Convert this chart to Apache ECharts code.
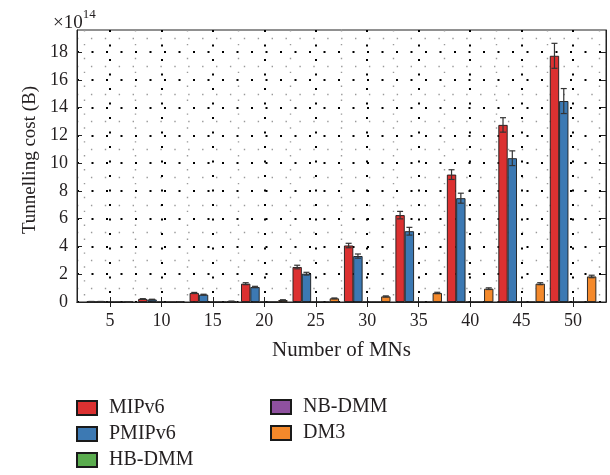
<!DOCTYPE html>
<html>
<head>
<meta charset="utf-8">
<script src="https://cdn.jsdelivr.net/npm/echarts@6/dist/echarts.min.js"></script>
<style>
  html, body { margin: 0; padding: 0; background: #fff; }
  #chart { width: 610px; height: 475px; }
</style>
</head>
<body>
<div id="chart"></div>
<script>
// number of mobile nodes (x tick labels)
var mnCounts = [5, 10, 15, 20, 25, 30, 35, 40, 45, 50]
var yTicks = [0, 2, 4, 6, 8, 10, 12, 14, 16, 18]

// tunnelling cost, x10^14 B
var mipv6 = [0.03, 0.22, 0.65, 1.32, 2.52, 4.07, 6.26, 9.18, 12.76, 17.74]
var pmipv6 = [0.03, 0.18, 0.53, 1.08, 2.04, 3.31, 5.10, 7.48, 10.36, 14.48]
var hbDmm = [0, 0, 0, 0, 0, 0, 0, 0, 0, 0]
var nbDmm = [0, 0, 0, 0, 0, 0, 0, 0, 0, 0]
var dm3 = [0.01, 0.03, 0.05, 0.14, 0.26, 0.40, 0.65, 0.96, 1.32, 1.84]

// error bar half-lengths
var mipv6Err = [0.01, 0.02, 0.04, 0.07, 0.13, 0.16, 0.27, 0.35, 0.52, 0.90]
var pmipv6Err = [0.01, 0.02, 0.03, 0.05, 0.10, 0.15, 0.28, 0.36, 0.53, 0.90]
var dm3Err = [0, 0, 0.01, 0.02, 0.03, 0.04, 0.05, 0.06, 0.07, 0.09]

var FONT = 'Liberation Serif'
var TXT = '#231f20'
var BAR_W = 9.3
var colors = ['#dc3131', '#3c79b3', '#5aac4e', '#8f519f', '#f4892b']
var names = ['MIPv6', 'PMIPv6', 'HB-DMM', 'NB-DMM', 'DM3']
var values = [mipv6, pmipv6, hbDmm, nbDmm, dm3]

var xMinor = mnCounts.map(function (v) { return v - 2.5 }).concat([52.5])
var yMinor = yTicks.map(function (v) { return v + 1 })

var majorLine = { show: true, lineStyle: { color: '#000', width: 2, type: [2, 12.5] } }
var minorLine = { show: true, lineStyle: { color: '#999', width: 1.4, type: [1.4, 12.5] } }

function pairs (arr) {
  return arr.map(function (v, i) { return [mnCounts[i], v] })
}

var series = names.map(function (n, i) {
  return {
    name: n,
    type: 'bar',
    xAxisIndex: 0,
    yAxisIndex: 0,
    barWidth: BAR_W,
    barGap: '0%',
    itemStyle: { color: colors[i], borderColor: '#1a1a1a', borderWidth: 0.9 },
    data: pairs(values[i])
  }
})

function errSeries (vals, errs, idx) {
  return {
    type: 'custom',
    xAxisIndex: 0,
    yAxisIndex: 0,
    z: 5,
    silent: true,
    data: vals.map(function (v, i) { return [mnCounts[i], v, errs[i]] }),
    renderItem: function (params, api) {
      var x = api.value(0)
      var v = api.value(1)
      var e = api.value(2)
      var hi = api.coord([x, v + e])
      var lo = api.coord([x, v - e])
      var cx = hi[0] + (idx - 2) * BAR_W
      var cap = 3
      var st = { stroke: '#333', lineWidth: 1.2 }
      return {
        type: 'group',
        children: [
          { type: 'line', shape: { x1: cx, y1: hi[1], x2: cx, y2: lo[1] }, style: st },
          { type: 'line', shape: { x1: cx - cap, y1: hi[1], x2: cx + cap, y2: hi[1] }, style: st },
          { type: 'line', shape: { x1: cx - cap, y1: lo[1], x2: cx + cap, y2: lo[1] }, style: st }
        ]
      }
    }
  }
}

series.push(errSeries(mipv6, mipv6Err, 0))
series.push(errSeries(pmipv6, pmipv6Err, 1))
series.push(errSeries(dm3, dm3Err, 4))

var X_MIN = 1.8
var X_MAX = 53.2
var Y_MAX = 19.6

var legendBase = {
  orient: 'vertical',
  padding: 0,
  itemWidth: 20,
  itemHeight: 14,
  itemGap: 6,
  icon: 'rect',
  textStyle: { fontFamily: FONT, fontSize: 20, color: TXT, lineHeight: 20, padding: [0, 0, 0, 7] }
}

var option = {
  animation: false,
  textStyle: { fontFamily: FONT },
  title: {
    text: '{a|×10}{b|14}',
    left: 48,
    top: 3,
    textStyle: {
      fontWeight: 'normal',
      rich: {
        a: { fontFamily: FONT, fontSize: 19, fontWeight: 'normal', color: TXT, padding: [6, 0, 0, 0] },
        b: { fontFamily: FONT, fontSize: 13, fontWeight: 'normal', color: TXT, verticalAlign: 'top' }
      }
    }
  },
  grid: {
    left: 77,
    right: 4,
    top: 30,
    bottom: 173,
    show: true,
    borderColor: '#222',
    borderWidth: 1
  },
  legend: [
    Object.assign({}, legendBase, { data: names.slice(0, 3), left: 76, top: 398 }),
    Object.assign({}, legendBase, { data: names.slice(3), left: 270, top: 397 })
  ],
  xAxis: [
    {
      type: 'value',
      position: 'bottom',
      min: X_MIN,
      max: X_MAX,
      name: 'Number of MNs',
      nameLocation: 'middle',
      nameGap: 38,
      nameTextStyle: { fontFamily: FONT, fontSize: 21, color: TXT },
      axisLine: { show: true, lineStyle: { color: '#222', width: 1 } },
      axisTick: { show: true, inside: true, length: 5, customValues: mnCounts, lineStyle: { color: '#222' } },
      axisLabel: { customValues: mnCounts, fontFamily: FONT, fontSize: 18, color: TXT, margin: 10 },
      splitLine: majorLine
    },
    {
      type: 'value',
      position: 'top',
      min: X_MIN,
      max: X_MAX,
      axisLine: { show: true, lineStyle: { color: '#222', width: 1 } },
      axisTick: { show: true, inside: true, length: 5, customValues: mnCounts, lineStyle: { color: '#222' } },
      axisLabel: { show: false },
      splitLine: { show: false }
    },
    {
      type: 'value',
      min: X_MIN,
      max: X_MAX,
      axisLine: { show: false },
      axisTick: { show: false, customValues: xMinor },
      axisLabel: { show: false },
      splitLine: minorLine
    }
  ],
  yAxis: [
    {
      type: 'value',
      position: 'left',
      min: 0,
      max: Y_MAX,
      interval: 2,
      name: 'Tunnelling cost (B)',
      nameLocation: 'middle',
      nameGap: 33,
      nameTextStyle: { fontFamily: FONT, fontSize: 19, color: TXT, padding: [0, 0, 0, 12] },
      axisLine: { show: true, lineStyle: { color: '#222', width: 1 } },
      axisTick: { show: true, inside: true, length: 5, customValues: yTicks, lineStyle: { color: '#222' } },
      axisLabel: { customValues: yTicks, fontFamily: FONT, fontSize: 18, color: TXT, margin: 9 },
      splitLine: majorLine
    },
    {
      type: 'value',
      position: 'right',
      min: 0,
      max: Y_MAX,
      interval: 2,
      axisLine: { show: true, lineStyle: { color: '#222', width: 1 } },
      axisTick: { show: true, inside: true, length: 5, customValues: yTicks, lineStyle: { color: '#222' } },
      axisLabel: { show: false },
      splitLine: { show: false }
    },
    {
      type: 'value',
      min: 0,
      max: Y_MAX,
      interval: 1,
      axisLine: { show: false },
      axisTick: { show: false, customValues: yMinor },
      axisLabel: { show: false },
      splitLine: minorLine
    }
  ],
  series: series
}

var chart = echarts.init(document.getElementById('chart'))
chart.setOption(option)
</script>
</body>
</html>
